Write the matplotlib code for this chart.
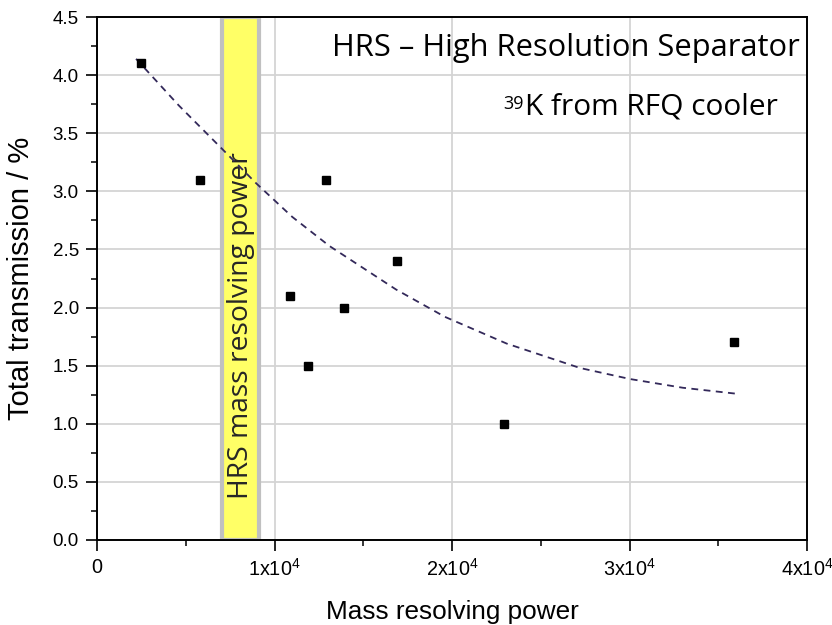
import matplotlib

matplotlib.use('Agg')
import matplotlib.pyplot as plt
from matplotlib.ticker import FixedLocator, MultipleLocator

matplotlib.rcParams['font.family'] = ['Liberation Sans', 'DejaVu Sans']
matplotlib.rcParams['mathtext.fontset'] = 'custom'
matplotlib.rcParams['mathtext.rm'] = 'Liberation Sans'
matplotlib.rcParams['mathtext.it'] = 'Liberation Sans'

# measured points: mass resolving power vs total transmission
mrp = [2500, 5800, 10900, 11900, 12900, 13900, 16900, 22900, 35900]
transmission = [4.1, 3.1, 2.1, 1.5, 3.1, 2.0, 2.4, 1.0, 1.7]

# dashed trend line
fit_x = [2200, 4600, 7080, 8960, 11000, 13090, 16850, 19600, 23080, 27210,
         30030, 33000, 35940]
fit_y = [4.14, 3.74, 3.36, 3.07, 2.78, 2.53, 2.155, 1.92, 1.69, 1.48,
         1.385, 1.31, 1.26]

# HRS design mass resolving power band
band = (7050, 9120)

xticks = [0, 10000, 20000, 30000, 40000]
xtick_labels = ['0', r'1x10$^4$', r'2x10$^4$', r'3x10$^4$', r'4x10$^4$']

LINE_COLOR = '#33295a'
GRID_COLOR = '#d4d4d4'

width = 8.32
height = 6.25

fig = plt.figure(figsize=(width, height), dpi=100)
ax = fig.add_axes([0.1166, 0.136, 0.8534, 0.8368])

ax.axvspan(band[0], band[1], facecolor='#ffff66', edgecolor='#c0c0c0',
           lw=3, zorder=1)
ax.text((band[0] + band[1]) / 2, 0.41, 'HRS mass resolving power',
        transform=ax.get_xaxis_transform(), rotation=90,
        ha='center', va='center', fontsize=20.3, color='#262626',
        family='Open Sans', zorder=2)

ax.plot(fit_x, fit_y, color=LINE_COLOR, lw=1.3, dashes=(3.8, 3.0), zorder=3)
ax.plot(mrp, transmission, 's', color='black', markersize=5.5, zorder=4)

ax.set_xlim(0, 40000)
ax.set_ylim(0, 4.5)
ax.xaxis.set_major_locator(FixedLocator(xticks))
ax.set_xticklabels(xtick_labels)
ax.xaxis.set_minor_locator(MultipleLocator(5000))
ax.yaxis.set_major_locator(MultipleLocator(0.5))
ax.yaxis.set_minor_locator(MultipleLocator(0.25))
ax.yaxis.set_major_formatter(matplotlib.ticker.FormatStrFormatter('%.1f'))

ax.grid(True, which='major', color=GRID_COLOR, lw=1.3, zorder=0)
ax.set_axisbelow(True)

for s in ax.spines.values():
    s.set_linewidth(1.4)
    s.set_color('black')
ax.tick_params(which='major', direction='out', length=8, width=1.2,
               colors='black')
ax.tick_params(which='minor', direction='out', length=4, width=1.1)
ax.tick_params(axis='y', which='major', labelsize=13.5, pad=5)
ax.tick_params(axis='x', which='major', labelsize=14.3, pad=5)

ax.set_xlabel('Mass resolving power', fontsize=18.8, va='top')
ax.xaxis.set_label_coords(0.5, -0.114)
ax.set_ylabel('Total transmission / %', fontsize=21, va='bottom')
ax.yaxis.set_label_coords(-0.088, 0.5)

ax.text(0.99, 0.94, 'HRS \u2013 High Resolution Separator',
        transform=ax.transAxes, ha='right', va='center', fontsize=22.2,
        family='Open Sans')
src = ax.text(0.959, 0.828, 'K from RFQ cooler',
              transform=ax.transAxes, ha='right', va='center', fontsize=21.5,
              family='Open Sans')
ax.annotate('39', xy=(0, 1), xycoords=src, xytext=(-1, -1.5),
            textcoords='offset points', ha='right', va='top', fontsize=13,
            family='Open Sans')

fig.savefig('out.png', dpi=100)
plt.close()
